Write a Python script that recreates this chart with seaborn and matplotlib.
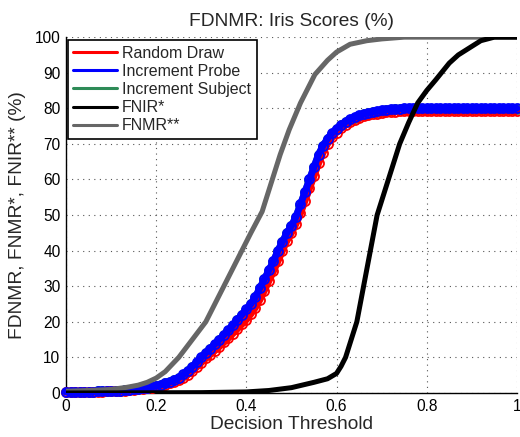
import numpy as np
import pandas as pd
import matplotlib
matplotlib.use("Agg")
import matplotlib.pyplot as plt
from matplotlib.lines import Line2D
import seaborn as sns

# ---- data -------------------------------------------------------------
thresholds = [round(0.01 * i, 2) for i in range(101)]

random_draw = [
    0.2, 0.2, 0.2, 0.3, 0.3, 0.3, 0.4, 0.4, 0.4, 0.5,
    0.5, 0.5, 0.6, 0.7, 0.8, 0.9, 1.0, 1.1, 1.3, 1.5,
    1.7, 2.0, 2.3, 2.7, 3.1, 3.6, 4.3, 5.1, 6.1, 7.3,
    8.5, 9.7, 10.8, 11.9, 13.0, 14.2, 15.4, 16.7, 18.0, 19.3,
    20.6, 22.2, 24.0, 26.2, 28.8, 31.5, 34.2, 37.0, 40.0, 42.8,
    45.0, 47.5, 50.5, 54.0, 57.5, 61.0, 64.5, 67.5, 70.0, 71.8,
    73.2, 74.4, 75.3, 76.1, 76.8, 77.3, 77.7, 78.0, 78.3, 78.5,
    78.7, 78.9, 79.0, 79.1, 79.2, 79.3, 79.3, 79.3, 79.3, 79.3,
    79.3, 79.3, 79.3, 79.3, 79.3, 79.3, 79.3, 79.3, 79.3, 79.3,
    79.3, 79.3, 79.3, 79.3, 79.3, 79.3, 79.3, 79.3, 79.3, 79.3,
    79.3,
]

increment_probe = [
    0.3, 0.3, 0.3, 0.3, 0.4, 0.4, 0.4, 0.5, 0.5, 0.5,
    0.6, 0.6, 0.7, 0.8, 0.9, 1.0, 1.1, 1.3, 1.5, 1.7,
    2.0, 2.3, 2.7, 3.1, 3.6, 4.3, 5.2, 6.2, 7.4, 8.6,
    10.0, 11.3, 12.5, 13.7, 15.0, 16.3, 17.6, 19.0, 20.6, 22.0,
    23.5, 25.0, 27.0, 29.5, 32.0, 34.5, 37.0, 40.0, 42.5, 45.0,
    47.0, 49.5, 53.0, 56.5, 60.0, 63.5, 67.0, 69.5, 71.5, 73.0,
    74.3, 75.3, 76.2, 76.9, 77.5, 78.0, 78.4, 78.7, 79.0, 79.2,
    79.4, 79.6, 79.7, 79.8, 79.9, 80.0, 80.0, 80.0, 80.0, 80.0,
    80.0, 80.0, 80.0, 80.0, 80.0, 80.0, 80.0, 80.0, 80.0, 80.0,
    80.0, 80.0, 80.0, 80.0, 80.0, 80.0, 80.0, 80.0, 80.0, 80.0,
    80.0,
]

increment_subject = [
    0.3, 0.3, 0.3, 0.3, 0.4, 0.4, 0.4, 0.5, 0.5, 0.5,
    0.6, 0.6, 0.7, 0.8, 0.9, 1.0, 1.1, 1.3, 1.5, 1.7,
    2.0, 2.3, 2.7, 3.1, 3.6, 4.3, 5.1, 6.1, 7.3, 8.5,
    9.9, 11.2, 12.4, 13.6, 14.9, 16.2, 17.5, 18.9, 20.5, 21.9,
    23.4, 24.9, 26.9, 29.4, 31.9, 34.4, 36.9, 39.9, 42.4, 44.9,
    46.9, 49.4, 52.9, 56.4, 59.9, 63.4, 66.9, 69.4, 71.4, 72.9,
    74.2, 75.2, 76.1, 76.8, 77.4, 77.9, 78.3, 78.6, 78.9, 79.1,
    79.3, 79.5, 79.6, 79.7, 79.8, 79.9, 79.9, 79.9, 79.9, 79.9,
    79.9, 79.9, 79.9, 79.9, 79.9, 79.9, 79.9, 79.9, 79.9, 79.9,
    79.9, 79.9, 79.9, 79.9, 79.9, 79.9, 79.9, 79.9, 79.9, 79.9,
    79.9,
]

fnir_x = [0, 0.3, 0.4, 0.45, 0.5, 0.55, 0.58, 0.6, 0.61, 0.62, 0.63, 0.645,
          0.66, 0.675, 0.69, 0.705, 0.72, 0.74, 0.76, 0.78, 0.8, 0.82, 0.85,
          0.87, 0.895, 0.92, 0.95, 1.0]
fnir_y = [0, 0.1, 0.3, 0.7, 1.5, 3.0, 4.0, 5.5, 7.5, 10, 14, 20,
          30, 40, 50, 56, 62, 70, 76, 81.5, 85, 88, 92.7,
          95, 97, 99, 100, 100]

fnmr_x = [0, 0.05, 0.1, 0.135, 0.16, 0.18, 0.2, 0.22, 0.25, 0.28, 0.31, 0.33,
          0.35, 0.37, 0.39, 0.41, 0.435, 0.455, 0.475, 0.495, 0.52, 0.552, 0.58,
          0.6, 0.63, 0.667, 0.7, 0.75, 1.0]
fnmr_y = [0.5, 0.7, 1.0, 1.6, 2.2, 3.0, 4.2, 6.0, 10, 15, 20, 25,
          30, 35, 40, 45, 51, 59, 67, 74, 81.5, 89.5, 93.5,
          95.8, 98, 99, 99.5, 100, 100]

series_names = ["Random Draw", "Increment Probe", "Increment Subject", "FNIR*", "FNMR**"]
series_colors = ["#ff0000", "#0000ff", "#2e8b57", "#000000", "#666666"]

xticks = [0, 0.2, 0.4, 0.6, 0.8, 1]
xtick_labels = ["0", "0.2", "0.4", "0.6", "0.8", "1"]
yticks = list(range(0, 101, 10))

# ---- figure -----------------------------------------------------------
sns.set_theme(style="white")
plt.rcParams["font.family"] = ["Liberation Sans", "DejaVu Sans"]

fig = plt.figure(figsize=(5.2, 4.37), dpi=100)
ax = fig.add_axes([0.127, 0.1007, 0.867, 0.8143])

band_df = pd.DataFrame({
    "threshold": thresholds * 3,
    "rate": increment_subject + random_draw + increment_probe,
    "series": ["Increment Subject"] * 101 + ["Random Draw"] * 101 + ["Increment Probe"] * 101,
})

color_of = dict(zip(series_names, series_colors))
band_style = dict(marker="o", markersize=6.5, markerfacecolor="none",
                  markeredgewidth=1.3, linewidth=5.0, clip_on=False)
for z, name in enumerate(["Increment Subject", "Random Draw", "Increment Probe"]):
    sub = band_df[band_df["series"] == name]
    sns.lineplot(data=sub, x="threshold", y="rate", ax=ax, color=color_of[name],
                 markeredgecolor=color_of[name], zorder=3 + z, legend=False,
                 estimator=None, sort=False, **band_style)

sns.lineplot(x=fnmr_x, y=fnmr_y, ax=ax, color=color_of["FNMR**"], linewidth=3.6,
             zorder=7, estimator=None, sort=False, legend=False)
sns.lineplot(x=fnir_x, y=fnir_y, ax=ax, color=color_of["FNIR*"], linewidth=3.6,
             zorder=8, estimator=None, sort=False, legend=False)

ax.set_xlim(0, 1)
ax.set_ylim(0, 100)
ax.set_xticks(xticks)
ax.set_xticklabels(xtick_labels)
ax.set_yticks(yticks)
ax.tick_params(direction="in", length=3, width=0.8, labelsize=11.2, colors="black",
               pad=4)
ax.grid(True, linestyle=(0, (1, 4)), color="#555555", linewidth=0.8)
ax.set_axisbelow(True)
for side in ["top", "right"]:
    ax.spines[side].set_visible(False)
for side in ["left", "bottom"]:
    ax.spines[side].set_color("black")
    ax.spines[side].set_linewidth(1.0)

ax.set_title("FDNMR: Iris Scores (%)", fontsize=13.8, pad=8)
ax.set_xlabel("Decision Threshold", fontsize=13.8, labelpad=2)
ax.set_ylabel("FDNMR, FNMR*, FNIR** (%)", fontsize=13.8, labelpad=6)

handles = [Line2D([0], [0], color=c, linewidth=2.2) for c in series_colors]
leg = ax.legend(handles, series_names, loc="upper left", bbox_to_anchor=(0.004, 0.992),
                borderaxespad=0, fontsize=11.5, handlelength=2.7, handletextpad=0.35,
                labelspacing=0.2, borderpad=0.35, fancybox=False, framealpha=1,
                edgecolor="black")
leg.get_frame().set_linewidth(1.2)
leg.set_zorder(20)

fig.savefig("out.png", dpi=100)
